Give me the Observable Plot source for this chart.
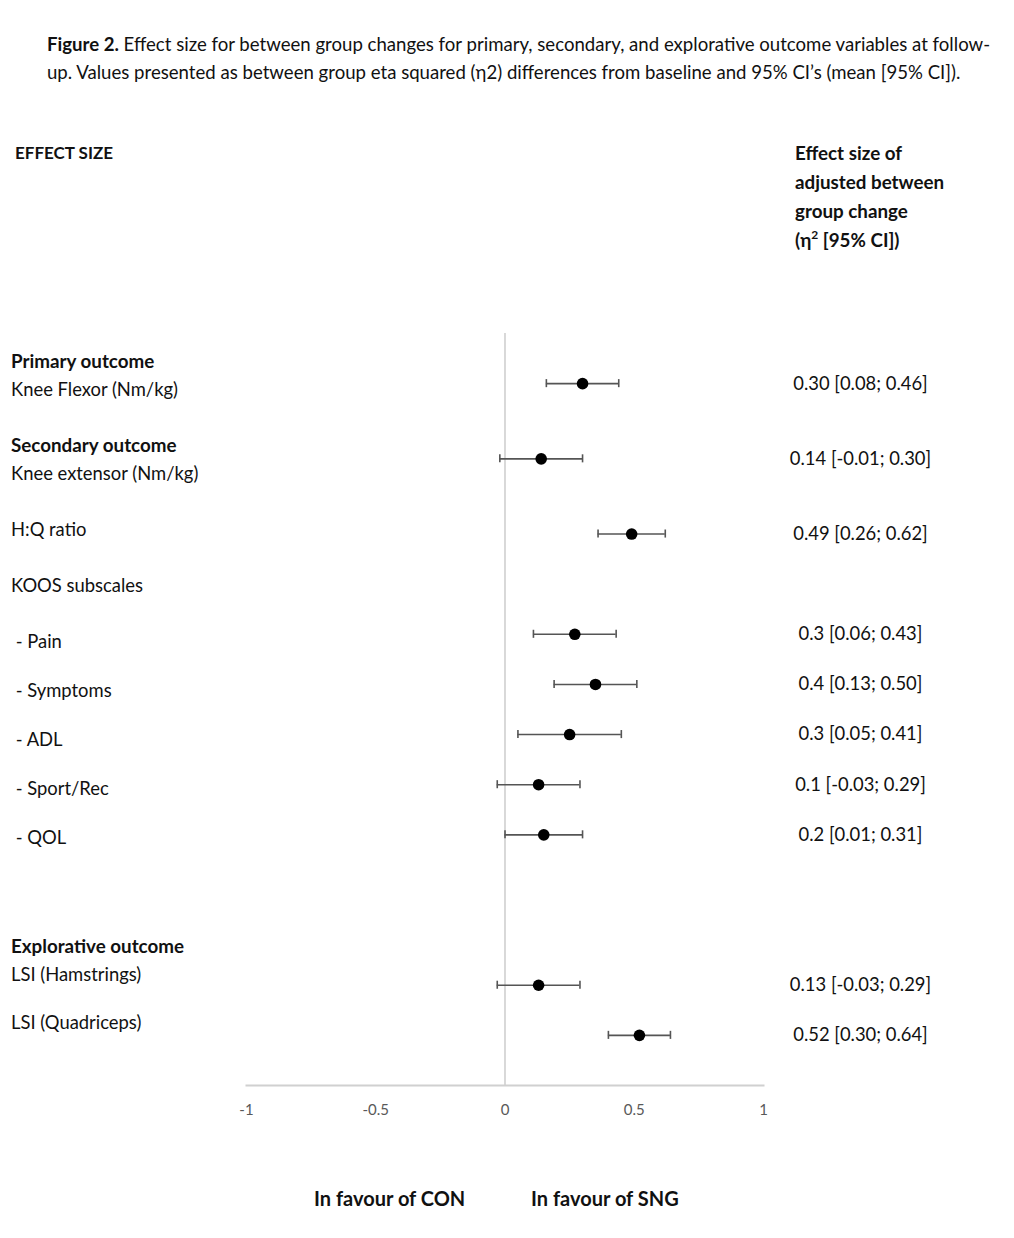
<!DOCTYPE html>
<html>
<head>
<meta charset="utf-8">
<script src="https://cdn.jsdelivr.net/npm/d3@7"></script>
<script src="https://cdn.jsdelivr.net/npm/@observablehq/plot@0.6"></script>
<style>
  html, body { margin: 0; padding: 0; background: #fff; }
  #page { position: relative; width: 1014px; height: 1238px; overflow: hidden; font-family: Lato, "Open Sans", sans-serif; color: #111; }
  #page svg { position: absolute; left: 0; top: 0; }
  .t { position: absolute; white-space: pre; line-height: 20px; font-size: 18.4px; }
  .b { font-weight: 700; font-size: 18.8px; }
  #title { position: absolute; left: 47px; top: 30px; font-size: 18.6px; line-height: 28px; white-space: pre; }
</style>
</head>
<body>
<div id="page">
  <div id="title"><b>Figure 2.</b> Effect size for between group changes for primary, secondary, and explorative outcome variables at follow-
up. Values presented as between group eta squared (η2) differences from baseline and 95% CI’s (mean [95% CI]).</div>
  <div class="t b" style="left:15px;top:143px;font-size:17px;">EFFECT SIZE</div>
  <div class="t b" style="left:795px;top:138px;line-height:29px;">Effect size of
adjusted between
group change
(η<sup style="font-size:12px;line-height:0;vertical-align:8px;">2</sup> [95% CI])</div>
  <div id="labels"></div>
  <div class="t b" style="left:314px;top:1188px;font-size:20px;">In favour of CON</div>
  <div class="t b" style="left:531px;top:1188px;font-size:20px;">In favour of SNG</div>
</div>
<script>
// ---- data ----
const outcomes = ["Knee Flexor (Nm/kg)", "Knee extensor (Nm/kg)", "H:Q ratio", "- Pain", "- Symptoms", "- ADL", "- Sport/Rec", "- QOL", "LSI (Hamstrings)", "LSI (Quadriceps)"];
const estimate = [0.30, 0.14, 0.49, 0.27, 0.35, 0.25, 0.13, 0.15, 0.13, 0.52];
const lower    = [0.16, -0.02, 0.36, 0.11, 0.19, 0.05, -0.03, 0.00, -0.03, 0.40];
const upper    = [0.44, 0.30, 0.62, 0.43, 0.51, 0.45, 0.29, 0.30, 0.29, 0.64];
const ciText   = ["0.30 [0.08; 0.46]", "0.14 [-0.01; 0.30]", "0.49 [0.26; 0.62]", "0.3 [0.06; 0.43]", "0.4 [0.13; 0.50]", "0.3 [0.05; 0.41]", "0.1 [-0.03; 0.29]", "0.2 [0.01; 0.31]", "0.13 [-0.03; 0.29]", "0.52 [0.30; 0.64]"];
const xTicks   = [-1, -0.5, 0, 0.5, 1];
// empty rows that follow each outcome in the figure's row layout
const emptyRowsAfter = [2, 2, 3, 1, 1, 1, 1, 5, 1, 0];
// left column text lines: [text, bold]
const leftLines = [
  ["Primary outcome", true], ["Knee Flexor (Nm/kg)", false],
  ["Secondary outcome", true], ["Knee extensor (Nm/kg)", false],
  ["H:Q ratio", false], ["KOOS subscales", false],
  [" - Pain", false], [" - Symptoms", false], [" - ADL", false], [" - Sport/Rec", false], [" - QOL", false],
  ["Explorative outcome", true], ["LSI (Hamstrings)", false], ["LSI (Quadriceps)", false]
];
const leftLineCenters = [361, 389, 445, 473, 529, 585, 641, 690, 739, 788, 837, 946, 974, 1022];

const data = outcomes.map((o, i) => ({outcome: o, est: estimate[i], lo: lower[i], hi: upper[i], label: ciText[i]}));
const rowDomain = [];
outcomes.forEach((o, i) => { rowDomain.push(o); for (let k = 0; k < emptyRowsAfter[i]; k++) rowDomain.push(`gap-${i}-${k}`); });

const lab = document.getElementById("labels");
leftLines.forEach(([txt, bold], i) => {
  const d = document.createElement("div");
  d.className = "t" + (bold ? " b" : "");
  d.style.left = "11px";
  d.style.top = (leftLineCenters[i] - 10) + "px";
  d.textContent = txt;
  lab.appendChild(d);
});

const barColor = "#555";
const chart = Plot.plot({
  width: 1014,
  height: 1238,
  marginLeft: 246,
  marginRight: 251,
  marginTop: 333,
  marginBottom: 153,
  style: {fontFamily: "Lato, 'Open Sans', sans-serif", background: "transparent", overflow: "visible"},
  x: {domain: [-1, 1], ticks: xTicks, tickFormat: d => String(d)},
  y: {type: "band", domain: rowDomain, paddingInner: 0, paddingOuter: 1.5, round: false, axis: null},
  marks: [
    Plot.ruleX([0], {stroke: "#c4c4c4", strokeWidth: 1.3}),
    Plot.frame({anchor: "bottom", stroke: "#d0d0d0", strokeWidth: 2}),
    Plot.axisX({ticks: xTicks, tickFormat: d => String(d), tickSize: 0, tickPadding: 19, fontSize: 15, color: "#595959", label: null}),
    Plot.ruleY(data, {y: "outcome", x1: "lo", x2: "hi", stroke: barColor, strokeWidth: 1.6}),
    Plot.tickX(data, {x: "lo", y: "outcome", stroke: barColor, strokeWidth: 1.6, insetTop: 8.5, insetBottom: 8.5}),
    Plot.tickX(data, {x: "hi", y: "outcome", stroke: barColor, strokeWidth: 1.6, insetTop: 8.5, insetBottom: 8.5}),
    Plot.dot(data, {x: "est", y: "outcome", r: 5.8, fill: "#000", stroke: "none"}),
    Plot.text(data, {y: "outcome", text: "label", frameAnchor: "right", dx: 97, textAnchor: "middle", fontSize: 18.4, fill: "#111"})
  ]
});
document.getElementById("page").appendChild(chart);
</script>
</body>
</html>
